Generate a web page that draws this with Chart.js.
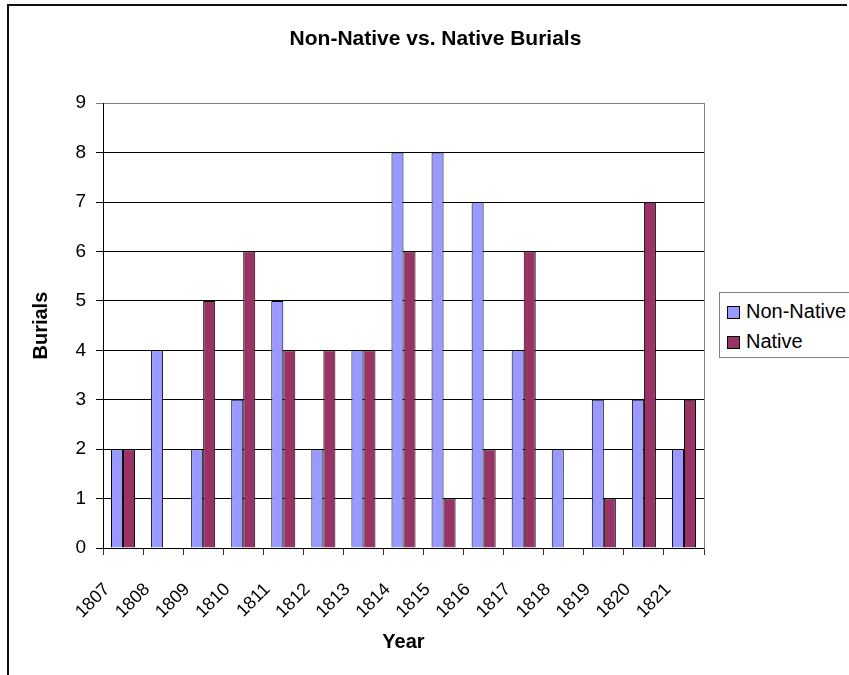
<!DOCTYPE html>
<html>
<head>
<meta charset="utf-8">
<title>Non-Native vs. Native Burials</title>
<script src="https://cdn.jsdelivr.net/npm/chart.js@4.4.0/dist/chart.umd.min.js"></script>
<style>
  body { margin: 0; background: #fff; overflow: hidden; }
  #wrap { position: relative; width: 849px; height: 675px; }
  #frame { position: absolute; left: 7px; top: 4px; width: 838px; height: 700px;
           border-top: 2px solid #111; border-left: 2px solid #111; }
  #myChart { position: absolute; left: 0; top: 0; }
  #legend { position: absolute; left: 719px; top: 292px; width: 140px; height: 64px;
            border: 1px solid #808080; background: #fff;
            font-family: "Liberation Sans", Arial, sans-serif; font-size: 20px; color: #000; }
  .item { position: absolute; left: 7px; height: 24px; line-height: 24px; white-space: nowrap; }
  .sw { display: inline-block; width: 11px; height: 11px; border: 1px solid #000;
        margin-right: 6px; vertical-align: -1px; }
</style>
</head>
<body>
<div id="wrap">
  <div id="frame"></div>
  <canvas id="myChart" width="849" height="675"></canvas>
  <div id="legend"></div>
</div>
<script>
var years = ['1807', '1808', '1809', '1810', '1811', '1812', '1813', '1814',
             '1815', '1816', '1817', '1818', '1819', '1820', '1821'];
var nonNative = [2, 4, 2, 3, 5, 2, 4, 8, 8, 7, 4, 2, 3, 3, 2];
var native = [2, 0, 5, 6, 4, 4, 4, 6, 1, 2, 6, 0, 1, 7, 3];
var yTicks = [0, 1, 2, 3, 4, 5, 6, 7, 8, 9];

var seriesNames = ['Non-Native', 'Native'];
var seriesColors = ['#9999ff', '#993366'];

var font = '"Liberation Sans", Arial, sans-serif';

// legend as plain html, box runs off the right edge like the original
var legend = document.getElementById('legend');
seriesNames.forEach(function (name, i) {
  var row = document.createElement('div');
  row.className = 'item';
  row.style.top = (i == 0 ? 6 : 36) + 'px';
  row.innerHTML = '<span class="sw" style="background:' + seriesColors[i] + '"></span>' + name;
  legend.appendChild(row);
});

var chartdata = {
  labels: years,
  datasets: [{
    label: seriesNames[0],
    data: nonNative,
    backgroundColor: seriesColors[0],
    borderColor: '#000',
    borderWidth: 1,
    categoryPercentage: 0.6,
    barPercentage: 1.0
  }, {
    label: seriesNames[1],
    data: native,
    backgroundColor: seriesColors[1],
    borderColor: '#000',
    borderWidth: 1,
    categoryPercentage: 0.6,
    barPercentage: 1.0
  }]
};

var ctx = document.getElementById('myChart');
var chart = new Chart(ctx, {
  type: 'bar',
  data: chartdata,
  options: {
    responsive: false,
    animation: false,
    layout: { padding: { left: 22, right: 0, top: 0, bottom: 0 } },
    plugins: {
      legend: { display: false },
      tooltip: { enabled: false },
      title: {
        display: true,
        text: 'Non-Native vs. Native Burials',
        color: '#000',
        font: { family: font, size: 21, weight: 'bold', lineHeight: 1.2 },
        padding: { top: 27, bottom: 51 }
      }
    },
    scales: {
      x: {
        grid: { drawOnChartArea: false, color: '#333', tickLength: 7, offset: true },
        border: { color: '#000', width: 1 },
        ticks: {
          color: '#000',
          font: { family: font, size: 18 },
          minRotation: 45,
          maxRotation: 45,
          autoSkip: false,
          labelOffset: -16,
          padding: 24
        },
        title: {
          display: true,
          text: 'Year',
          color: '#000',
          font: { family: font, size: 20, weight: 'bold', lineHeight: 1.2 },
          padding: { top: 0, bottom: 21 }
        },
        afterFit: function (scale) { scale.height = 127; }
      },
      y: {
        min: 0,
        max: 9,
        afterBuildTicks: function (scale) {
          scale.ticks = yTicks.map(function (v) { return { value: v }; });
        },
        grid: {
          color: function (c) { return c.tick && c.tick.value == 9 ? '#808080' : '#000'; },
          tickLength: 7
        },
        border: { color: '#000', width: 1 },
        ticks: {
          color: '#000',
          font: { family: font, size: 19 },
          padding: 10
        },
        title: {
          display: true,
          text: 'Burials',
          color: '#000',
          font: { family: font, size: 20, weight: 'bold', lineHeight: 1.2 },
          padding: { top: 7, bottom: 0 }
        },
        afterFit: function (scale) { scale.width = 81; }
      },
      // empty axis on the right: only keeps room for the legend and draws the grey plot edge
      y2: {
        position: 'right',
        min: 0,
        max: 9,
        grid: { drawOnChartArea: false, drawTicks: false },
        border: { color: '#808080', width: 1 },
        ticks: { display: false },
        afterFit: function (scale) { scale.width = 145; }
      }
    }
  }
});
</script>
</body>
</html>
